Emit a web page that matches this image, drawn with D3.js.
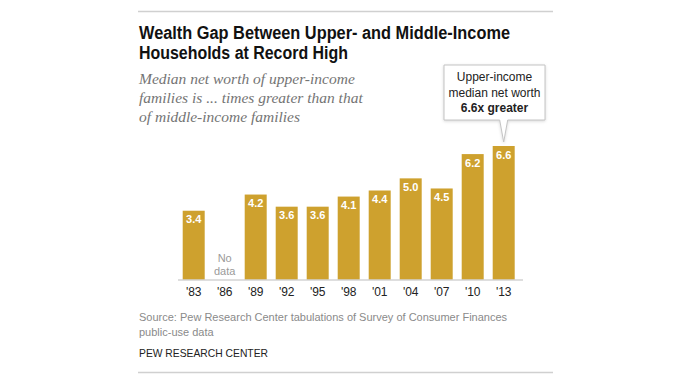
<!DOCTYPE html>
<html><head><meta charset="utf-8">
<script src="https://cdn.jsdelivr.net/npm/d3@7"></script>
<style>body{margin:0;background:#fff}svg{display:block}</style>
</head><body>
<svg id="c" width="680" height="382"></svg>
<script>
const years = ["'83","'86","'89","'92","'95","'98","'01","'04","'07","'10","'13"];
const ratios = [3.4, null, 4.2, 3.6, 3.6, 4.1, 4.4, 5.0, 4.5, 6.2, 6.6];
const titleLines = ["Wealth Gap Between Upper- and Middle-Income", "Households at Record High"];
const titleWidths = [371, 209];
const subtitleLines = ["Median net worth of upper-income", "families is ... times greater than that", "of middle-income families"];
const noDataLines = ["No", "data"];
const calloutLines = ["Upper-income", "median net worth", "6.6x greater"];
const sourceLines = ["Source: Pew Research Center tabulations of Survey of Consumer Finances", "public-use data"];
const brand = "PEW RESEARCH CENTER";

const svg = d3.select("#c");
const gold = "#CEA12E";
const sans = "'Liberation Sans', Arial, sans-serif";

// rules
svg.append("line").attr("x1",138).attr("x2",553).attr("y1",11.5).attr("y2",11.5).attr("stroke","#d0d0d0").attr("stroke-width",1.5);
svg.append("line").attr("x1",138).attr("x2",553).attr("y1",372.5).attr("y2",372.5).attr("stroke","#d0d0d0").attr("stroke-width",1.5);

// title
svg.append("g").selectAll("text").data(titleLines).join("text")
  .attr("x",139).attr("y",(d,i)=>39+i*19.5)
  .attr("font-family",sans).attr("font-weight","bold").attr("font-size",18)
  .attr("textLength",(d,i)=>titleWidths[i]).attr("lengthAdjust","spacingAndGlyphs")
  .attr("fill","#111").text(d=>d);

// subtitle
svg.append("g").selectAll("text").data(subtitleLines).join("text")
  .attr("x",139).attr("y",(d,i)=>84+i*19)
  .attr("font-family","'Liberation Serif', Georgia, serif").attr("font-style","italic").attr("font-size",15.5)
  .attr("fill","#747474").text(d=>d);

// scales
const x = d3.scaleBand().domain(years).range([182.7, 514.7]).paddingInner(9/31).paddingOuter(0);
const y = d3.scaleLinear().domain([0, 6.6]).range([279.5, 146]);

// bars
const data = years.map((yr,i)=>({yr, v: ratios[i]}));
const bars = data.filter(d=>d.v!=null);
svg.append("g").selectAll("rect").data(bars).join("rect")
  .attr("x",d=>x(d.yr)).attr("width",x.bandwidth())
  .attr("y",d=>y(d.v)).attr("height",d=>y(0)-y(d.v))
  .attr("fill",gold);

// value labels
svg.append("g").selectAll("text").data(bars).join("text")
  .attr("x",d=>x(d.yr)+x.bandwidth()/2).attr("y",d=>y(d.v)+12.5)
  .attr("text-anchor","middle").attr("font-family",sans).attr("font-weight","bold")
  .attr("font-size",11).attr("fill","#fff").text(d=>d.v.toFixed(1));

// no data
svg.append("g").selectAll("text").data(noDataLines).join("text")
  .attr("x",x("'86")+x.bandwidth()/2).attr("y",(d,i)=>262+i*13)
  .attr("text-anchor","middle").attr("font-family",sans).attr("font-size",11)
  .attr("fill","#9a9a9a").text(d=>d);

// axis
const axis = svg.append("g").attr("transform","translate(0,279.5)")
  .call(d3.axisBottom(x).tickSize(0).tickPadding(8));
axis.select(".domain").attr("d","M178,0.5H523").attr("stroke","#bdbdbd").attr("stroke-width",1);
axis.selectAll("text").attr("font-family",sans).attr("font-size",12).attr("fill","#222");

// callout
const cx = x("'13")+x.bandwidth()/2;
const bx0=444, bx1=545, by0=65, by1=120;
svg.append("path")
  .attr("d",`M${bx0},${by0}H${bx1}V${by1}H${cx+4}L${cx},${y(6.6)-4}L${cx-4},${by1}H${bx0}Z`)
  .attr("fill","#fff").attr("stroke","#c4c4c4").attr("stroke-width",1)
  .style("filter","drop-shadow(0px 1px 1.5px rgba(0,0,0,0.15))");
svg.append("g").selectAll("text").data(calloutLines).join("text")
  .attr("x",(bx0+bx1)/2).attr("y",(d,i)=>81+i*15.5)
  .attr("text-anchor","middle").attr("font-family",sans).attr("font-size",12)
  .attr("font-weight",(d,i)=>i===2?"bold":"normal")
  .attr("fill","#222").text(d=>d);

// source
svg.append("g").selectAll("text").data(sourceLines).join("text")
  .attr("x",139).attr("y",(d,i)=>321+i*15)
  .attr("font-family",sans).attr("font-size",11).attr("fill","#8a8a8a").text(d=>d);
svg.append("text").attr("x",139).attr("y",357).attr("font-family",sans).attr("font-size",11.5)
  .attr("textLength",129).attr("lengthAdjust","spacingAndGlyphs")
  .attr("fill","#222").text(brand);
</script>
</body></html>
